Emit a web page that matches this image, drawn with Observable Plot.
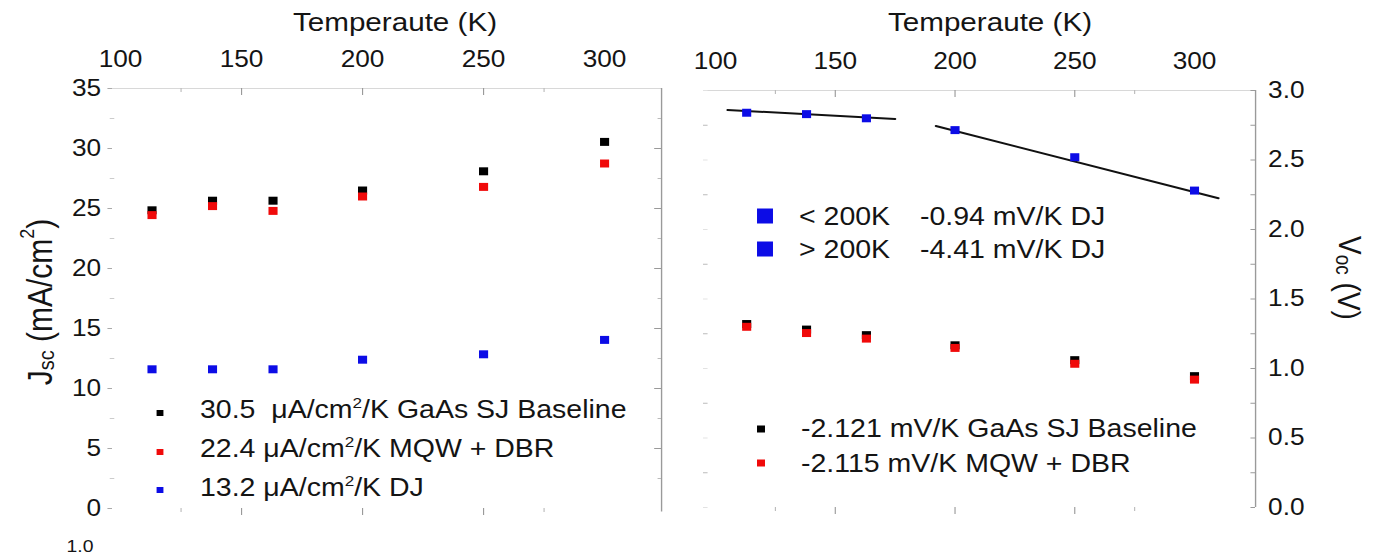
<!DOCTYPE html>
<html><head><meta charset="utf-8">
<script src="https://cdn.jsdelivr.net/npm/d3@7"></script>
<script src="https://cdn.jsdelivr.net/npm/@observablehq/plot@0.6"></script>
<style>
html,body{margin:0;padding:0;background:#fff;overflow:hidden;width:1373px;height:556px}
#stage{position:absolute;left:0;top:0;height:556px;transform-origin:0 0;font-family:"Liberation Sans",Arial,sans-serif;color:#141414}
#stage > svg{position:absolute;top:0}
</style></head><body><div id="stage"></div>
<script>
// ---- data ----
const temperatures = [113, 138, 163, 200, 250, 300];
const jscBaseline = [24.85, 25.65, 25.65, 26.5, 28.1, 30.55];
const jscMqwDbr   = [24.45, 25.2, 24.8, 26.0, 26.8, 28.75];
const jscDj       = [11.6, 11.6, 11.6, 12.4, 12.85, 14.05];
const vocDj       = [2.84, 2.83, 2.80, 2.715, 2.52, 2.28];
const vocBaseline = [1.32, 1.28, 1.24, 1.167, 1.06, 0.945];
const vocMqwDbr   = [1.30, 1.255, 1.215, 1.148, 1.034, 0.92];
const fitBelow200T = [105, 175];
const fitBelow200V = [2.86, 2.795];
const fitAbove200T = [192, 310];
const fitAbove200V = [2.745, 2.225];
const tempTickLabels = [100, 150, 200, 250, 300];
const tempTicksMajor = [150, 200, 250];
const tempTicksMinor = [125, 275];
const jscTicks = [0, 5, 10, 15, 20, 25, 30, 35];
const jscMinorTicks = [2.5, 7.5, 12.5, 17.5, 22.5, 27.5, 32.5];
const vocTicks = [0, 0.5, 1, 1.5, 2, 2.5, 3];
const vocMinorTicks = [0.25, 0.75, 1.25, 1.75, 2.25, 2.75];
const leftLegendLabels = ["30.5", "22.4", "13.2"];
const leftLegendNames = ["GaAs SJ Baseline", "MQW + DBR", "DJ"];
const rightLegendLabels = ["-2.121 mV/K GaAs SJ Baseline", "-2.115 mV/K MQW + DBR"];
const djLegendRanges = ["< 200K", "> 200K"];
const djLegendSlopes = ["-0.94 mV/K DJ", "-4.41 mV/K DJ"];
const xTitle = "Temperaute (K)";
const COL = {base: "#000000", mqw: "#f00a0a", dj: "#0c0ce6"};

// ---- layout (the source picture is horizontally stretched) ----
const S = 1.14, H = 556;
const X = v => v / S;
const CW = 1373 / S;
const stage = document.getElementById("stage");
stage.style.width = CW + "px";
stage.style.transform = `scaleX(${S})`;

const FONT = '"Liberation Sans", Arial, sans-serif';
const style = {fontFamily: FONT, fontSize: "23px", color: "#141414", background: "none", overflow: "visible"};
const pts = (ys) => temperatures.map((t, i) => ({t, v: ys[i]}));
const seg = (ts, vs) => ts.map((t, i) => ({t, v: vs[i]}));

// left panel
const LW = 598;
const lML = X(112), lMR = LW - X(661), lMT = 88, lMB = 48;
const lPW = LW - lML - lMR, lPH = H - lMT - lMB;
const leftDomain = [96.7, 323.55];
const left = Plot.plot({
  width: LW, height: H, marginLeft: lML, marginRight: lMR, marginTop: lMT, marginBottom: lMB,
  x: {domain: leftDomain}, y: {domain: [0, 35]}, style,
  marks: [
    Plot.ruleY([35], {stroke: "#d8d8d8"}),
    Plot.ruleX(tempTicksMajor, {stroke: "#9a9a9a", insetBottom: lPH - 7}),
    Plot.ruleX(tempTicksMinor, {stroke: "#bbbbbb", insetBottom: lPH - 4}),
    Plot.axisX({anchor: "top", ticks: tempTickLabels, tickSize: 0, tickPadding: 22, label: null}),
    Plot.axisX({anchor: "bottom", ticks: tempTicksMajor, tickSize: 7, tickFormat: () => "", label: null, stroke: "#9a9a9a"}),
    Plot.axisX({anchor: "bottom", ticks: tempTicksMinor, tickSize: 4, tickFormat: () => "", label: null, stroke: "#bbbbbb"}),
    Plot.axisY({anchor: "left", ticks: jscTicks, tickSize: 4, tickPadding: 6, label: null, stroke: "#aaaaaa"}),
    Plot.ruleY(jscMinorTicks, {stroke: "#cccccc", insetRight: lPW - 2, insetLeft: -2}),
    Plot.ruleX([leftDomain[1]], {y1: -0.3, y2: 35, stroke: "#9a9a9a", strokeWidth: 1.2}),
    Plot.ruleY(jscTicks.slice(1, -1), {stroke: "#9a9a9a", insetLeft: lPW - 6}),
    Plot.ruleY(jscMinorTicks, {stroke: "#bbbbbb", insetLeft: lPW - 3}),
    Plot.dot(pts(jscBaseline), {x: "t", y: "v", symbol: "square", r: 4.5, fill: COL.base}),
    Plot.dot(pts(jscMqwDbr), {x: "t", y: "v", symbol: "square", r: 4.5, fill: COL.mqw}),
    Plot.dot(pts(jscDj), {x: "t", y: "v", symbol: "square", r: 4.5, fill: COL.dj})
  ]
});
left.style.left = "0px";
stage.appendChild(left);

// right panel
const RL = 598, RW = Math.round(CW) - RL;
const rML = X(703) - RL, rMR = RL + RW - X(1255), rMT = 90, rMB = 49;
const rPW = RW - rML - rMR, rPH = H - rMT - rMB;
const rightDomain = [95.0, 325.5];
const right = Plot.plot({
  width: RW, height: H, marginLeft: rML, marginRight: rMR, marginTop: rMT, marginBottom: rMB,
  x: {domain: rightDomain}, y: {domain: [0, 3]}, style,
  marks: [
    Plot.ruleY([3], {stroke: "#d8d8d8"}),
    Plot.ruleX(tempTicksMajor, {stroke: "#9a9a9a", insetBottom: rPH - 7}),
    Plot.ruleX(tempTicksMinor, {stroke: "#bbbbbb", insetBottom: rPH - 4}),
    Plot.axisX({anchor: "top", ticks: tempTickLabels, tickSize: 0, tickPadding: 22, label: null}),
    Plot.axisX({anchor: "bottom", ticks: tempTicksMajor, tickSize: 7, tickFormat: () => "", label: null, stroke: "#9a9a9a"}),
    Plot.axisX({anchor: "bottom", ticks: tempTicksMinor, tickSize: 4, tickFormat: () => "", label: null, stroke: "#bbbbbb"}),
    Plot.ruleX([rightDomain[1]], {y1: 0, y2: 3, stroke: "#9a9a9a", strokeWidth: 1.2}),
    Plot.axisY({anchor: "right", ticks: vocTicks, tickSize: 0, tickPadding: 11, tickFormat: d3.format(".1f"), label: null}),
    Plot.ruleY(vocTicks.concat(vocMinorTicks), {stroke: "#9a9a9a", insetLeft: rPW - 4}),
    Plot.ruleY(vocMinorTicks, {stroke: "#bbbbbb", insetRight: rPW - 4}),
    Plot.ruleY(vocTicks, {stroke: "#e2e2e2", insetRight: rPW - 4}),
    Plot.line(seg(fitBelow200T, fitBelow200V), {x: "t", y: "v", stroke: "#111", strokeWidth: 2}),
    Plot.line(seg(fitAbove200T, fitAbove200V), {x: "t", y: "v", stroke: "#111", strokeWidth: 2}),
    Plot.dot(pts(vocDj), {x: "t", y: "v", symbol: "square", r: 4.5, fill: COL.dj}),
    Plot.dot(pts(vocBaseline), {x: "t", y: "v", symbol: "square", r: 4.5, fill: COL.base}),
    Plot.dot(pts(vocMqwDbr), {x: "t", y: "v", symbol: "square", r: 4.5, fill: COL.mqw})
  ]
});
right.style.left = RL + "px";
stage.appendChild(right);

// ---- titles, axis labels and legends ----
const leftCols = [COL.base, COL.mqw, COL.dj];
const leftRowsY = [413, 452, 490];
const leftBase = [418, 457, 496];
let o = `<svg xmlns="http://www.w3.org/2000/svg" width="${CW}" height="${H}" style="left:0;font-family:${FONT.replace(/"/g, "'")};fill:#141414">`;
o += `<text x="${X(395)}" y="31" text-anchor="middle" font-size="26">${xTitle}</text>`;
o += `<text x="${X(990)}" y="31" text-anchor="middle" font-size="26">${xTitle}</text>`;
o += `<text transform="translate(${X(40)},302) rotate(-90)" text-anchor="middle" dominant-baseline="central" font-size="30">J<tspan font-size="20" dy="6">sc</tspan><tspan dy="-6"> (mA/cm</tspan><tspan font-size="18" dy="-12">2</tspan><tspan dy="12">)</tspan></text>`;
o += `<text transform="translate(${X(1350)},278) rotate(90)" text-anchor="middle" dominant-baseline="central" font-size="28">V<tspan font-size="19" dy="6">oc</tspan><tspan dy="-6"> (V)</tspan></text>`;
leftLegendLabels.forEach((lab, i) => {
  o += `<rect x="${X(160) - 3}" y="${leftRowsY[i] - 3}" width="6" height="6" fill="${leftCols[i]}"/>`;
  o += `<text x="${X(200)}" y="${leftBase[i]}" font-size="25" style="white-space:pre">${lab}${i === 0 ? "  " : " "}μA/cm<tspan font-size="15" dy="-10">2</tspan><tspan dy="10">/K ${leftLegendNames[i]}</tspan></text>`;
});
const djY = [216, 249], djBase = [225, 258];
djLegendRanges.forEach((r, i) => {
  o += `<rect x="${X(765) - 7}" y="${djY[i] - 7.5}" width="14" height="15" fill="${COL.dj}"/>`;
  o += `<text x="${X(799)}" y="${djBase[i]}" font-size="25">${r}</text>`;
  o += `<text x="${X(920)}" y="${djBase[i]}" font-size="25">${djLegendSlopes[i]}</text>`;
});
const rCols = [COL.base, COL.mqw], rY = [429, 463], rBase = [437, 472];
rightLegendLabels.forEach((lab, i) => {
  o += `<rect x="${X(761) - 3.5}" y="${rY[i] - 3.5}" width="7" height="7" fill="${rCols[i]}"/>`;
  o += `<text x="${X(801)}" y="${rBase[i]}" font-size="25">${lab}</text>`;
});
o += `<text x="${X(80)}" y="552" text-anchor="middle" font-size="17">1.0</text>`;
o += `</svg>`;
stage.insertAdjacentHTML("beforeend", o);
</script></body></html>
